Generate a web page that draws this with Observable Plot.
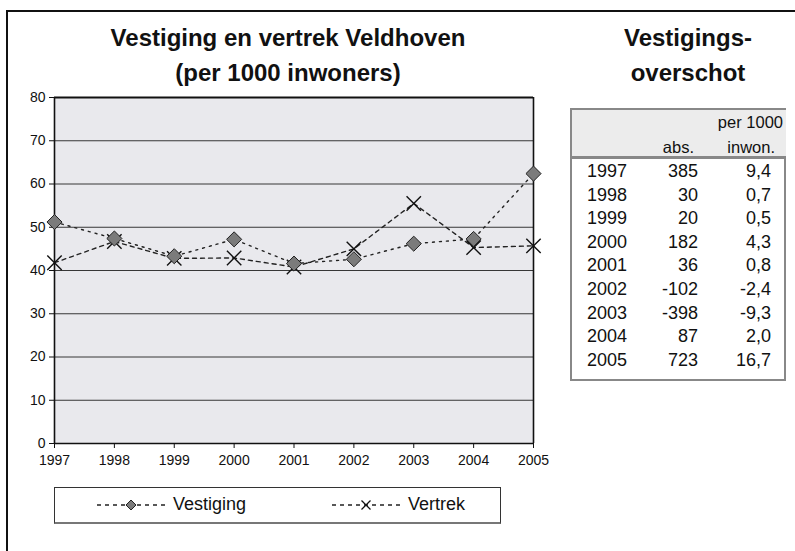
<!DOCTYPE html>
<html>
<head>
<meta charset="utf-8">
<script src="https://cdn.jsdelivr.net/npm/d3@7"></script>
<script src="https://cdn.jsdelivr.net/npm/@observablehq/plot@0.6"></script>
<style>
  html, body { margin: 0; padding: 0; background: #fff; }
  #wrap { position: relative; width: 795px; height: 551px; overflow: hidden; font-family: "Liberation Sans", Arial, sans-serif; color: #111; }
  #wrap svg { position: absolute; left: 0; top: 0; }
  .abs { position: absolute; white-space: nowrap; }
  .title { font-weight: bold; font-size: 24px; line-height: 35px; text-align: center; }
</style>
</head>
<body>
<div id="wrap"></div>
<script>
// ---- data ----
const years = [1997, 1998, 1999, 2000, 2001, 2002, 2003, 2004, 2005];
const vestiging = [51.2, 47.4, 43.3, 47.2, 41.6, 42.6, 46.2, 47.3, 62.4];
const vertrek   = [41.8, 46.7, 42.8, 42.9, 40.8, 45.0, 55.5, 45.3, 45.7];
const surplusAbs = ["385", "30", "20", "182", "36", "-102", "-398", "87", "723"];
const surplusPer1000 = ["9,4", "0,7", "0,5", "4,3", "0,8", "-2,4", "-9,3", "2,0", "16,7"];
const yTicks = [0, 10, 20, 30, 40, 50, 60, 70, 80];
const seriesNames = ["Vestiging", "Vertrek"];
const chartTitle = ["Vestiging en vertrek Veldhoven", "(per 1000 inwoners)"];
const tableTitle = ["Vestigings-", "overschot"];
const tableHeader = ["per 1000", "abs.", "inwon."];

const vestData = years.map((y, i) => ({year: y, value: vestiging[i]}));
const vertData = years.map((y, i) => ({year: y, value: vertrek[i]}));

const wrap = document.getElementById("wrap");

const chart = Plot.plot({
  width: 795,
  height: 551,
  marginLeft: 54,
  marginRight: 262,
  marginTop: 97,
  marginBottom: 108,
  style: {fontFamily: "'Liberation Sans', Arial, sans-serif", fontSize: "14px", background: "transparent", color: "#111"},
  x: {domain: [1997, 2005]},
  y: {domain: [0, 80]},
  marks: [
    Plot.frame({fill: "#e9e9ed", stroke: null}),
    Plot.ruleY(yTicks.filter(d => d > 0 && d < 80), {stroke: "#222", strokeWidth: 0.9}),
    Plot.ruleY([80], {stroke: "#111", strokeWidth: 2}),
    Plot.ruleX([1997, 2005], {stroke: "#111", strokeWidth: 1.6}),
    Plot.ruleY([0], {stroke: "#111", strokeWidth: 1.6}),
    Plot.axisY({ticks: yTicks, tickSize: 5, tickPadding: 4, tickFormat: d => String(d), fontSize: 14, label: null}),
    Plot.axisX({ticks: years, tickSize: 5, tickPadding: 7, tickFormat: d => String(d), fontSize: 14, label: null}),
    Plot.line(vestData, {x: "year", y: "value", stroke: "#222", strokeWidth: 1.4, strokeDasharray: "2,5"}),
    Plot.line(vertData, {x: "year", y: "value", stroke: "#222", strokeWidth: 1.4, strokeDasharray: "4,4"}),
    Plot.dot(vertData, {x: "year", y: "value", symbol: "times", r: 6.6, stroke: "#111", strokeWidth: 1.4}),
    Plot.dot(vestData, {x: "year", y: "value", symbol: "diamond2", r: 6.8, fill: "#7b7b7b", stroke: "#222", strokeWidth: 1})
  ]
});
wrap.appendChild(chart);

function addDiv(text, css, cls) {
  const d = document.createElement("div");
  d.className = "abs" + (cls ? " " + cls : "");
  d.textContent = text;
  Object.assign(d.style, css);
  wrap.appendChild(d);
  return d;
}

// outer frame (left and top lines)
addDiv("", {left: "6px", top: "10px", width: "2px", height: "545px", background: "#111"});
addDiv("", {left: "6px", top: "10px", width: "800px", height: "2px", background: "#111"});

// titles
chartTitle.forEach((t, i) => addDiv(t, {left: "88px", width: "400px", top: (20 + i * 35) + "px"}, "title"));
tableTitle.forEach((t, i) => addDiv(t, {left: "598px", width: "180px", top: (20 + i * 35) + "px"}, "title"));

// table
addDiv("", {left: "570px", top: "108px", width: "212px", height: "269px", border: "2px solid #888", background: "#fff"});
addDiv("", {left: "572px", top: "110px", width: "214px", height: "46px", background: "#ececec"});
addDiv("", {left: "572px", top: "156px", width: "214px", height: "3px", background: "#888"});
const hStyle = {fontSize: "16.5px", lineHeight: "20px"};
addDiv(tableHeader[0], Object.assign({right: (795 - 783) + "px", top: "112px", textAlign: "right"}, hStyle));
addDiv(tableHeader[1], Object.assign({right: (795 - 694) + "px", top: "137px", textAlign: "right"}, hStyle));
addDiv(tableHeader[2], Object.assign({right: (795 - 775) + "px", top: "137px", textAlign: "right"}, hStyle));
years.forEach((y, i) => {
  const top = 160 + i * 23.6;
  const s = {fontSize: "18px", lineHeight: "23.6px", top: top + "px"};
  addDiv(String(y), Object.assign({left: "587px"}, s));
  addDiv(surplusAbs[i], Object.assign({right: (795 - 698) + "px", textAlign: "right"}, s));
  addDiv(surplusPer1000[i], Object.assign({right: (795 - 771) + "px", textAlign: "right"}, s));
});

// legend
addDiv("", {left: "54px", top: "487px", width: "445px", height: "34px", border: "1px solid #333", borderBottom: "2px solid #777", background: "#fff"});
const legendItems = [
  {x0: 97, name: seriesNames[0], symbol: "diamond"},
  {x0: 332, name: seriesNames[1], symbol: "times"}
];
const ns = "http://www.w3.org/2000/svg";
legendItems.forEach(it => {
  const svg = document.createElementNS(ns, "svg");
  svg.setAttribute("width", 70);
  svg.setAttribute("height", 20);
  svg.style.position = "absolute";
  svg.style.left = it.x0 + "px";
  svg.style.top = "495px";
  const ln = document.createElementNS(ns, "line");
  ln.setAttribute("x1", 0); ln.setAttribute("x2", 68);
  ln.setAttribute("y1", 10); ln.setAttribute("y2", 10);
  ln.setAttribute("stroke", "#222"); ln.setAttribute("stroke-width", 1.6);
  ln.setAttribute("stroke-dasharray", "4,4");
  svg.appendChild(ln);
  const p = document.createElementNS(ns, "path");
  if (it.symbol === "diamond") {
    p.setAttribute("d", "M34,5 L39,10 L34,15 L29,10 Z");
    p.setAttribute("fill", "#7b7b7b"); p.setAttribute("stroke", "#222");
  } else {
    p.setAttribute("d", "M29.5,5.5 L38.5,14.5 M38.5,5.5 L29.5,14.5");
    p.setAttribute("stroke", "#111"); p.setAttribute("stroke-width", 1.3); p.setAttribute("fill", "none");
  }
  svg.appendChild(p);
  wrap.appendChild(svg);
  addDiv(it.name, {left: (it.x0 + 76) + "px", top: "493px", fontSize: "18px", lineHeight: "22px"});
});
</script>
</body>
</html>
